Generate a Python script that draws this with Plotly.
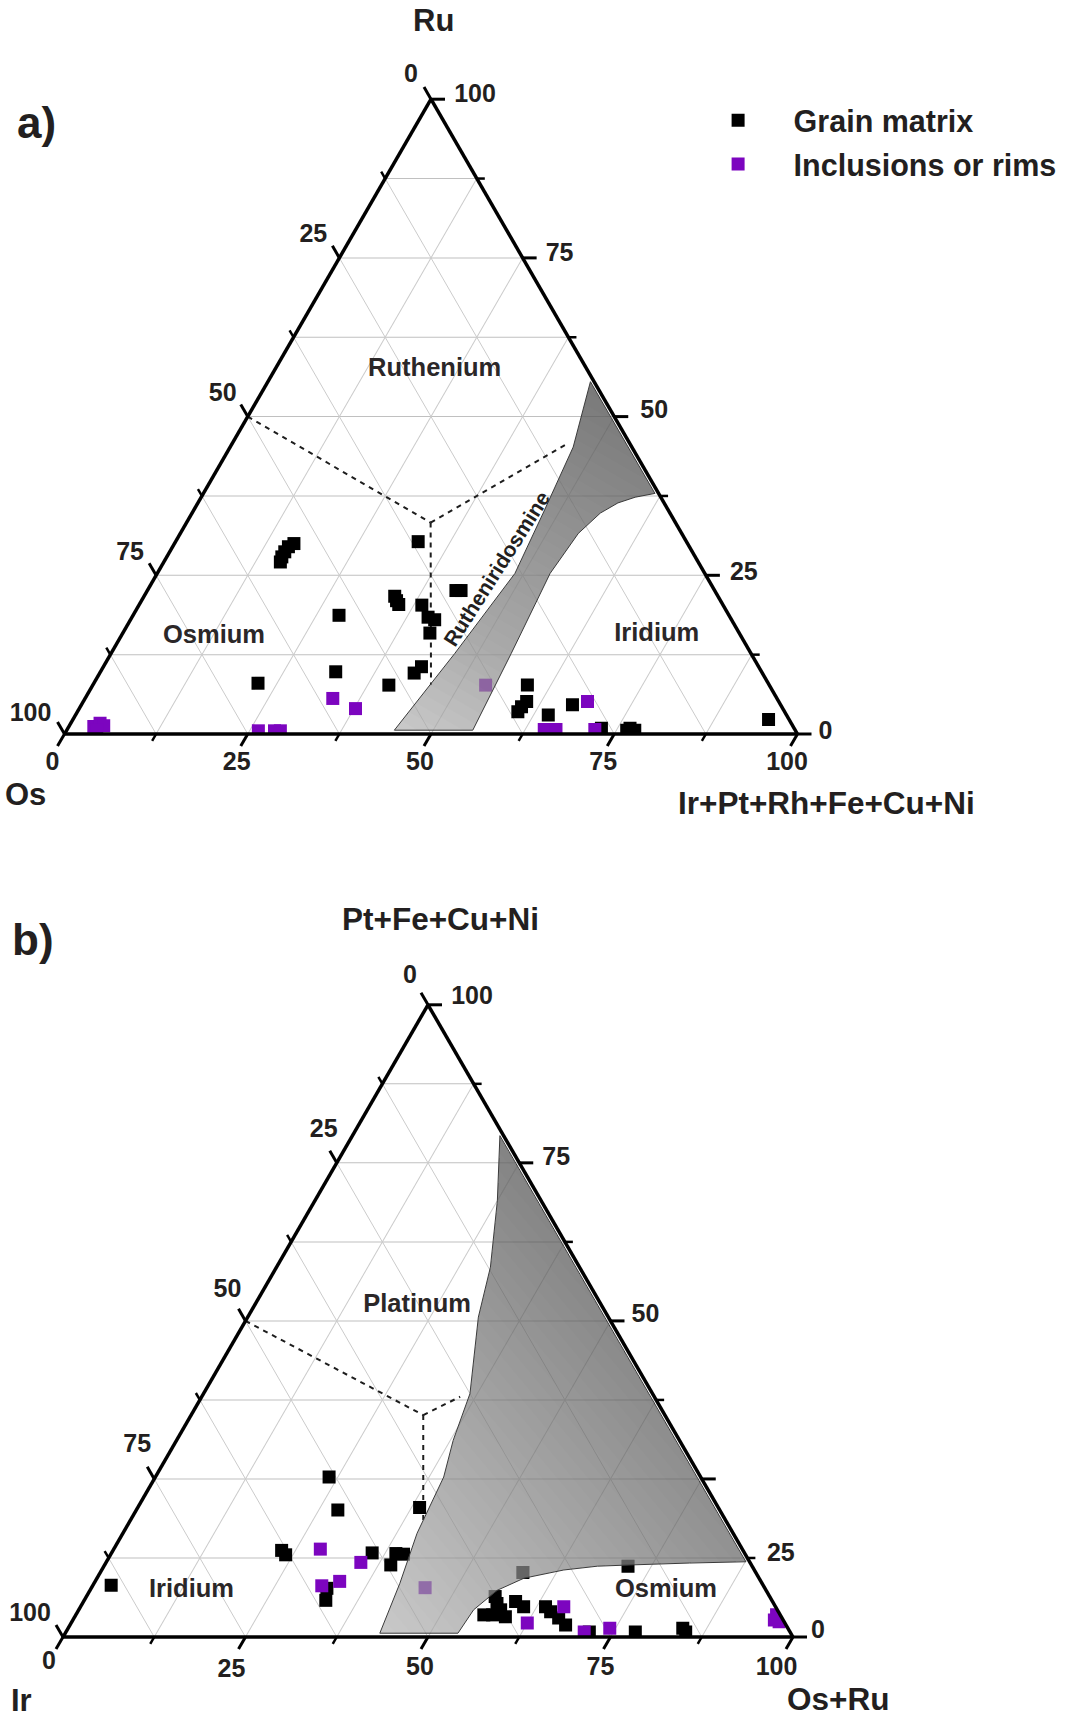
import math
import plotly.graph_objects as go

# ------------------------------------------------------------------
# DATA (at.%)
# Panel a) apex = Ru, lower left = Os, lower right = Ir+Pt+Rh+Fe+Cu+Ni
A_GRAIN_RU = [30.0, 29.5, 28.7, 27.9, 27.1, 30.3, 18.7, 9.8, 8.0, 21.7, 21.0, 20.4, 20.3, 18.4, 18.0, 15.9,
              22.6, 22.6, 10.6, 9.6, 7.7, 7.7, 5.1, 4.3, 3.5, 3.0, 4.6, 0.9, 0.9, 0.6, 0.6, 2.3]
A_GRAIN_OS = [53.7, 54.7, 55.6, 56.4, 57.0, 36.6, 53.2, 58.1, 69.6, 44.1, 44.2, 44.2, 41.1, 41.2, 40.5, 42.2,
              35.3, 34.6, 46.0, 47.5, 51.9, 33.0, 34.4, 35.5, 36.4, 32.5, 28.4, 26.3, 22.4, 21.9, 23.0, 2.8]
A_GRAIN_IR = [16.3, 15.8, 15.7, 15.7, 15.9, 33.1, 28.1, 32.1, 22.4, 34.2, 34.8, 35.4, 38.6, 40.4, 41.5, 41.9,
              42.1, 42.8, 43.4, 42.9, 40.4, 59.3, 60.5, 60.2, 60.1, 64.5, 67.0, 72.8, 76.7, 77.5, 76.4, 94.9]

A_INCL_RU = [1.2, 1.7, 1.3, 0.6, 0.5, 0.5, 0.5, 5.6, 4.0, 7.7, 0.7, 0.7, 5.1, 0.7]
A_INCL_OS = [95.4, 94.3, 94.0, 95.3, 73.3, 71.1, 70.3, 60.6, 58.3, 38.7, 34.2, 32.6, 26.1, 27.3]
A_INCL_IR = [3.4, 4.0, 4.7, 4.1, 26.2, 28.4, 29.2, 33.8, 37.7, 53.6, 65.1, 66.7, 68.8, 72.0]

# Panel b) apex = Pt+Fe+Cu+Ni, lower left = Ir, lower right = Os+Ru
B_GRAIN_PT = [8.2, 25.3, 20.1, 20.5, 13.7, 13.0, 13.3, 13.2, 13.1, 11.4, 7.7, 5.8, 10.2, 11.2, 6.4,
              3.5, 3.5, 4.3, 3.2, 5.3, 5.6, 4.8, 4.8, 4.0, 3.0, 1.9, 0.8, 0.8, 1.4, 0.8]
B_GRAIN_IR = [89.3, 50.9, 52.3, 40.9, 63.2, 63.0, 51.0, 47.8, 46.8, 49.4, 60.0, 61.1, 31.9, 17.0, 37.6,
              40.6, 39.4, 37.9, 37.8, 37.9, 35.2, 34.5, 31.5, 31.2, 30.6, 30.2, 27.5, 21.2, 14.4, 14.3]
B_GRAIN_OSRU = [2.5, 23.8, 27.6, 38.6, 23.1, 24.0, 35.7, 39.0, 40.1, 39.2, 32.3, 33.1, 57.9, 71.8, 56.0,
                55.9, 57.1, 57.8, 59.0, 56.8, 59.2, 60.7, 63.7, 64.8, 66.4, 67.9, 71.7, 78.0, 84.2, 84.9]

B_INCL_PT = [13.9, 11.8, 8.8, 8.1, 7.8, 4.8, 2.2, 0.8, 1.4, 3.5, 2.4, 2.7]
B_INCL_IR = [57.8, 53.3, 57.7, 60.5, 46.5, 29.0, 35.3, 28.2, 24.4, 0.5, 0.7, 1.2]
B_INCL_OSRU = [28.3, 34.9, 33.5, 31.4, 45.7, 66.2, 62.5, 71.0, 74.2, 96.0, 96.9, 96.1]

# Compositional fields (outline vertices: apex component, lower-right component)
A_FIELD_RU = [0.6, 12.7, 25.3, 34.8, 45.2, 55.5, 37.9, 37.3, 36.4, 34.8, 31.6, 25.3, 12.7, 0.6]
A_FIELD_IR = [44.7, 46.9, 48.8, 47.9, 46.8, 44.0, 61.6, 59.2, 57.3, 55.7, 54.3, 53.6, 54.6, 55.4]
B_FIELD_PT = [0.6, 8.5, 16.4, 25.3, 31.1, 38.5, 50.6, 58.5, 69.0, 79.3, 11.9, 11.7, 11.4, 11.2, 10.6,
              9.3, 7.4, 4.3, 0.6]
B_FIELD_OSRU = [43.1, 41.9, 40.3, 39.5, 37.9, 36.5, 31.6, 29.3, 25.0, 20.2, 87.6, 80.0, 72.1, 67.6, 63.3,
                58.5, 55.8, 54.1, 53.8]

# Dashed field boundaries (apex component, lower-right component)
A_DASH = [([50.0, 33.3], [0.0, 33.3]), ([33.3, 45.8], [33.3, 45.8]), ([33.3, 7.7], [33.3, 46.15])]
B_DASH = [([50.0, 35.1], [0.0, 31.8]), ([35.1, 38.0], [31.8, 35.4]), ([35.1, 18.0], [31.8, 40.35])]

# Field names
A_NAMES = ["Ruthenium", "Osmium", "Iridium"]
A_NAMES_RU = [57.4, 15.4, 15.6]
A_NAMES_IR = [21.8, 12.7, 73.0]
B_NAMES = ["Platinum", "Iridium", "Osmium"]
B_NAMES_PT = [52.4, 7.4, 7.4]
B_NAMES_OSRU = [22.3, 13.9, 78.9]

TICK_TEXT = ["0", "25", "50", "75", "100"]
TICK_VALUES = [0, 25, 50, 75, 100]
GRID_VALUES = [12.5, 25, 37.5, 50, 62.5, 75, 87.5]
SUM = 100.0

# ------------------------------------------------------------------
FIG_W, FIG_H = 1075, 1720
SQ = math.sqrt(3) / 2
FONT = "Liberation Sans, Arial, sans-serif"
INK = "#231f20"
PURPLE = "#7c05bf"

GEOM = {
    "ternary": dict(x0=64.5, yb=734.0, W=733.0),
    "ternary2": dict(x0=63.0, yb=1637.0, W=730.0),
}


def domain(g):
    H = g["W"] * SQ
    return dict(x=[g["x0"] / FIG_W, (g["x0"] + g["W"]) / FIG_W],
                y=[(FIG_H - g["yb"]) / FIG_H, (FIG_H - g["yb"] + H) / FIG_H])


def ter_px(g, a, c):
    """ternary composition -> page pixel of that subplot's frame"""
    H = g["W"] * SQ
    return g["x0"] + g["W"] * (c + a / 2) / 100, g["yb"] - H * a / 100


fig = go.Figure()


def add_points(sub, a, b, c, color, name, show):
    fig.add_trace(go.Scatterternary(
        subplot=sub, a=a, b=b, c=c, mode="markers", name=name, legendgroup=name,
        showlegend=show, marker=dict(symbol="square", size=13, color=color, line=dict(width=0)),
        hoverinfo="a+b+c"))


def clip(poly, f, thr):
    out = []
    n = len(poly)
    for i in range(n):
        P, Q = poly[i], poly[(i + 1) % n]
        fp, fq = f(P) - thr, f(Q) - thr
        if fp >= 0:
            out.append(P)
        if (fp >= 0) != (fq >= 0):
            t = fp / (fp - fq)
            out.append((P[0] + t * (Q[0] - P[0]), P[1] + t * (Q[1] - P[1])))
    return out


def add_field(sub, fa, fc, shade, angle_deg):
    poly = list(zip(fa, fc))
    ca, sa = math.cos(math.radians(angle_deg)), math.sin(math.radians(angle_deg))

    def f(p):  # position along the shading direction
        return ca * (p[1] + p[0] / 2) + sa * SQ * p[0]

    vals = [f(p) for p in poly]
    smin, smax = min(vals), max(vals)

    def poly_trace(pts, fillcolor):
        aa = [p[0] for p in pts] + [pts[0][0]]
        cc = [p[1] for p in pts] + [pts[0][1]]
        bb = [SUM - x - y for x, y in zip(aa, cc)]
        fig.add_trace(go.Scatterternary(subplot=sub, a=aa, b=bb, c=cc, mode="lines", fill="toself",
                                        fillcolor=fillcolor, line=dict(width=0, color="rgba(0,0,0,0)"),
                                        hoverinfo="skip", showlegend=False))

    poly_trace(poly, "rgba(172,172,172,0.66)")
    n = 34
    for k in range(1, n + 1):
        thr = smin + (smax - smin) * k / (n + 1)
        part = clip(poly, f, thr)
        if len(part) >= 3:
            poly_trace(part, "rgba(0,0,0,%.4f)" % shade)
    aa = list(fa) + [fa[0]]
    cc = list(fc) + [fc[0]]
    bb = [SUM - x - y for x, y in zip(aa, cc)]
    fig.add_trace(go.Scatterternary(subplot=sub, a=aa, b=bb, c=cc, mode="lines",
                                    line=dict(width=1, color="#3a3a3a"), hoverinfo="skip",
                                    showlegend=False))


def add_dashes(sub, dashes):
    for la, lc in dashes:
        lb = [SUM - x - y for x, y in zip(la, lc)]
        fig.add_trace(go.Scatterternary(subplot=sub, a=la, b=lb, c=lc, mode="lines",
                                        line=dict(width=2, color="#1e1e1e", dash="5px,5px"),
                                        hoverinfo="skip", showlegend=False))


def add_ticks(sub):
    """tick marks extend the grid lines outward, drawn on a full-page overlay axis"""
    g = GEOM[sub]
    unit = g["W"] / 100
    for major in (True, False):
        X, Y = [], []
        for i in range(9):
            v = 12.5 * i
            if (i % 2 == 0) != major:
                continue
            d = (14 if major else 8) / unit
            segs = [((100 - v, 0), (100 - v + d, -d)),      # left edge
                    ((v, 100 - v), (v, 100 - v + d)),       # right edge
                    ((0, v), (-d, v))]                      # bottom edge
            for (a0, c0), (a1, c1) in segs:
                x0, y0 = ter_px(g, a0, c0)
                x1, y1 = ter_px(g, a1, c1)
                X += [x0, x1, None]
                Y += [y0, y1, None]
        fig.add_trace(go.Scatter(x=X, y=Y, xaxis="x", yaxis="y", mode="lines", cliponaxis=False,
                                 line=dict(width=3 if major else 2.5, color="black"),
                                 hoverinfo="skip", showlegend=False))


def add_tick_labels(sub, left_off, right_pos, right_off, bottom_off):
    g = GEOM[sub]
    X, Y, T = [], [], []
    for v, t, (dx, dy) in zip(TICK_VALUES, TICK_TEXT, left_off):
        x, y = ter_px(g, 100 - v, 0)
        X.append(x + dx); Y.append(y + dy); T.append(t)
    for v, t, (dx, dy) in zip(right_pos, TICK_TEXT[::-1], right_off):
        x, y = ter_px(g, v, 100 - v)
        X.append(x + dx); Y.append(y + dy); T.append(t)
    for v, t, (dx, dy) in zip(TICK_VALUES, TICK_TEXT, bottom_off):
        x, y = ter_px(g, 0, v)
        X.append(x + dx); Y.append(y + dy); T.append(t)
    fig.add_trace(go.Scatter(x=X, y=Y, xaxis="x", yaxis="y", mode="text", text=T, cliponaxis=False,
                             textposition="middle center",
                             textfont=dict(family=FONT, size=25, color=INK, weight="bold"),
                             hoverinfo="skip", showlegend=False))


def add_names(sub, names, na, nc):
    nb = [SUM - x - y for x, y in zip(na, nc)]
    fig.add_trace(go.Scatterternary(subplot=sub, a=na, b=nb, c=nc, mode="text", text=names,
                                    textposition="middle center",
                                    textfont=dict(family=FONT, size=25.5, color="#2b2728", weight="bold"),
                                    hoverinfo="skip", showlegend=False))


# ---------------- panel a ----------------
add_dashes("ternary", A_DASH)
add_points("ternary", A_GRAIN_RU, A_GRAIN_OS, A_GRAIN_IR, "#000000", "Grain matrix", True)
add_points("ternary", A_INCL_RU, A_INCL_OS, A_INCL_IR, PURPLE, "Inclusions or rims", True)
add_field("ternary", A_FIELD_RU, A_FIELD_IR, 0.0125, 60)
add_names("ternary", A_NAMES, A_NAMES_RU, A_NAMES_IR)
add_ticks("ternary")
add_tick_labels("ternary",
                [(-20, -23), (-26, -22), (-25, -22), (-26, -21.5), (-34, -19)],
                [100, 75, 50, 25, 0],
                [(44, -3.5), (37, -3), (40, -4.5), (38, -2), (28, -1)],
                [(-12, 30), (-11, 30), (-11, 30), (-11, 30), (-10.5, 30)])

# ---------------- panel b ----------------
add_dashes("ternary2", B_DASH)
add_points("ternary2", B_GRAIN_PT, B_GRAIN_IR, B_GRAIN_OSRU, "#000000", "Grain matrix", False)
add_points("ternary2", B_INCL_PT, B_INCL_IR, B_INCL_OSRU, PURPLE, "Inclusions or rims", False)
add_field("ternary2", B_FIELD_PT, B_FIELD_OSRU, 0.0095, 40)
add_names("ternary2", B_NAMES, B_NAMES_PT, B_NAMES_OSRU)
add_ticks("ternary2")
add_tick_labels("ternary2",
                [(-18, -28), (-13, -32), (-18, -30), (-17, -33), (-33, -22)],
                [100, 75, 50, 12.5, 0],
                [(44, -7), (37, -4), (35, -5), (33.5, -3), (25, -5)],
                [(-14, 26), (-14, 34), (-8, 32), (-10, 32), (-16.5, 32)])


def axis_style(gridcolor):
    return dict(title=dict(text=""), min=0, tickmode="array", tickvals=GRID_VALUES,
                showticklabels=False, ticks="", showgrid=True, gridcolor=gridcolor, gridwidth=1,
                showline=True, linecolor="black", linewidth=3.5)


for sub in ("ternary", "ternary2"):
    fig.update_layout(**{sub: dict(sum=SUM, domain=domain(GEOM[sub]), bgcolor="white",
                                   aaxis=axis_style("#c0c0c0"), baxis=axis_style("#cbcbcb"),
                                   caxis=axis_style("#cbcbcb"))})


def px_ann(text, x, y, size, angle=0):
    return dict(text=text, x=x / FIG_W, y=1 - y / FIG_H, xref="paper", yref="paper", showarrow=False,
                xanchor="center", yanchor="middle", textangle=angle,
                font=dict(family=FONT, size=size, color=INK, weight="bold"))


annotations = [
    px_ann("a)", 36, 123, 44),
    px_ann("b)", 33, 939, 44),
    px_ann("Ru", 433, 20, 31),
    px_ann("Os", 25, 795, 31),
    px_ann("Ir+Pt+Rh+Fe+Cu+Ni", 826, 803, 31.5),
    px_ann("Pt+Fe+Cu+Ni", 440, 919, 31.5),
    px_ann("Ir", 21, 1700, 31),
    px_ann("Os+Ru", 838, 1699, 31.5),
]
rx, ry = ter_px(GEOM["ternary"], 26.1, 45.9)
annotations.append(dict(text="Rutheniridosmine", x=rx, y=ry, xref="x", yref="y", showarrow=False,
                        xanchor="center", yanchor="middle", textangle=-57.5,
                        font=dict(family=FONT, size=21, color=INK, weight="bold")))

fig.update_layout(
    width=FIG_W, height=FIG_H, margin=dict(l=0, r=0, t=0, b=0),
    paper_bgcolor="white", plot_bgcolor="rgba(0,0,0,0)",
    font=dict(family=FONT, color=INK),
    xaxis=dict(range=[0, FIG_W], domain=[0, 1], visible=False, fixedrange=True),
    yaxis=dict(range=[FIG_H, 0], domain=[0, 1], visible=False, fixedrange=True),
    annotations=annotations,
    showlegend=True,
    legend=dict(x=682.6 / FIG_W, y=1 - 94 / FIG_H, xanchor="left", yanchor="top",
                bgcolor="rgba(0,0,0,0)", itemwidth=101, tracegroupgap=1,
                font=dict(family=FONT, size=30.5, color=INK, weight="bold")),
)

fig.write_html("out.html")
